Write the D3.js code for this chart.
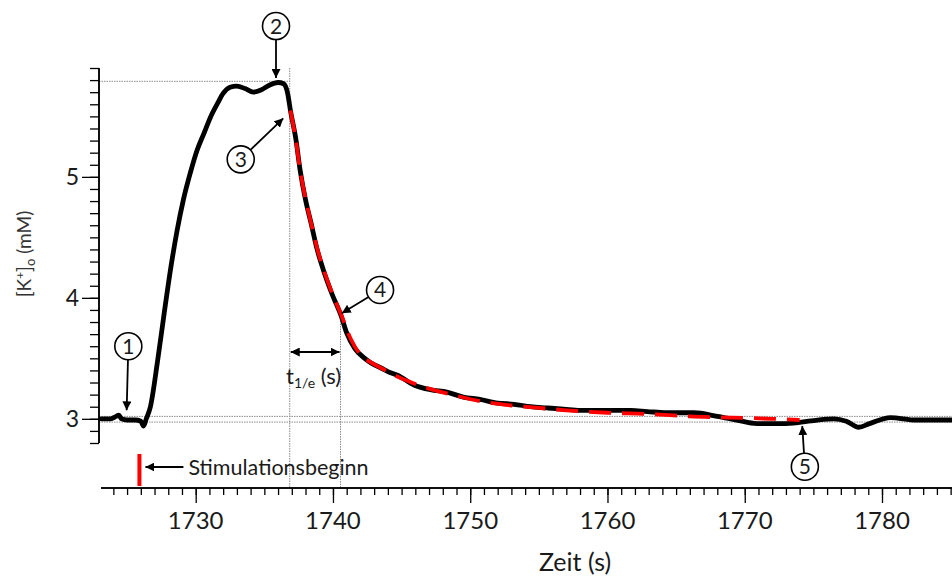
<!DOCTYPE html>
<html>
<head>
<meta charset="utf-8">
<script src="https://cdn.jsdelivr.net/npm/d3@7"></script>
<style>
  html, body { margin: 0; padding: 0; background: #fff; }
  svg { display: block; font-family: Lato, "Open Sans", sans-serif; }
</style>
</head>
<body>
<svg id="chart" width="952" height="577"></svg>
<script>
// ---- data ----
const traceTime = [1723.1,1723.8,1724.2,1724.4,1724.6,1725.0,1725.6,1726.0,1726.2,1726.4,1726.7,1727.2,1727.7,1728.2,1728.65,1729.1,1729.6,1730.1,1730.6,1731.1,1731.6,1732.0,1732.5,1733.0,1733.6,1734.2,1734.8,1735.4,1736.0,1736.4,1736.7,1736.9,1737.3,1737.6,1738.0,1738.4,1738.8,1739.3,1739.9,1740.6,1741.0,1741.6,1742.2,1742.8,1743.5,1744.0,1744.7,1745.9,1747.1,1748.3,1749.5,1750.7,1752.0,1753.2,1754.4,1755.6,1756.8,1758.0,1759.2,1760.5,1761.7,1762.9,1764.3,1766.3,1768.0,1769.4,1770.9,1772.8,1774.0,1775.3,1776.5,1777.4,1778.3,1779.1,1780.6,1782.5,1785.1];
const traceK = [3.00,3.00,3.02,3.03,3.00,2.99,2.99,2.98,2.94,3.00,3.10,3.46,3.87,4.26,4.56,4.81,5.03,5.22,5.36,5.50,5.61,5.69,5.74,5.75,5.73,5.70,5.72,5.76,5.78,5.77,5.69,5.55,5.31,5.06,4.81,4.62,4.42,4.23,4.04,3.85,3.71,3.58,3.51,3.46,3.42,3.39,3.36,3.28,3.24,3.22,3.18,3.16,3.13,3.12,3.10,3.09,3.08,3.07,3.07,3.07,3.07,3.06,3.05,3.05,3.02,2.99,2.96,2.96,2.97,2.99,3.00,2.98,2.93,2.96,3.01,2.99,2.99];

const fitTime = [1736.9,1737.3,1737.6,1738.0,1738.4,1738.8,1739.3,1739.9,1740.6,1741.3,1742.0,1742.7,1743.5,1744.5,1745.5,1747.0,1749.0,1751.0,1753.0,1755.0,1757.0,1760.0,1763.0,1766.0,1769.0,1772.0,1774.0];
const fitK    = [5.55,5.30,5.06,4.82,4.62,4.43,4.24,4.05,3.86,3.66,3.53,3.47,3.42,3.36,3.31,3.25,3.19,3.14,3.11,3.09,3.07,3.05,3.04,3.02,3.01,3.00,2.99];

const xMajorTicks = [1730,1740,1750,1760,1770,1780];
const yMajorTicks = [3,4,5];

const stimTime = 1725.9;
const peakK = 5.79;
const decayStart = 1736.85;
const t1e = 1740.55;
const baseHigh = 3.02, baseLow = 2.973;

const markers = [
  {label:"1", cx:1725.09, cy:3.60, tx:1724.97, ty:3.07},
  {label:"2", cx:1735.85, cy:6.247, tx:1735.85, ty:5.817},
  {label:"3", cx:1733.28, cy:5.145, tx:1736.38, ty:5.484},
  {label:"4", cx:1743.43, cy:4.065, tx:1740.64, ty:3.872},
  {label:"5", cx:1774.38, cy:2.604, tx:1774.19, ty:2.94}
];

// ---- scales ----
const svg = d3.select("#chart");
const x = d3.scaleLinear().domain([1723.1, 1785.1]).range([101, 952]);
const y = d3.scaleLinear().domain([2.8, 5.9]).range([443, 68]);
const xAxisY = 488;

// arrow marker
const defs = svg.append("defs");
defs.append("marker").attr("id","arr").attr("viewBox","0 0 10 10")
  .attr("refX",10).attr("refY",5).attr("markerWidth",9).attr("markerHeight",9)
  .attr("markerUnits","userSpaceOnUse").attr("orient","auto-start-reverse")
  .append("path").attr("d","M0,0 L10,5 L0,10 z").attr("fill","#000");

// ---- reference gridlines (gray dotted) ----
const grid = svg.append("g").attr("stroke","#8a8a8a").attr("stroke-width",1).attr("stroke-dasharray","1.5,1");
grid.append("line").attr("x1", x.range()[0]-2).attr("x2", x(decayStart)).attr("y1", y(peakK)).attr("y2", y(peakK));
grid.append("line").attr("x1", x(decayStart)).attr("x2", x(decayStart)).attr("y1", y(5.9)).attr("y2", xAxisY);
grid.append("line").attr("x1", x(t1e)).attr("x2", x(t1e)).attr("y1", y(3.87)).attr("y2", xAxisY);
grid.append("line").attr("x1", 99).attr("x2", 952).attr("y1", y(baseHigh)).attr("y2", y(baseHigh));
grid.append("line").attr("x1", 99).attr("x2", 952).attr("y1", y(baseLow)).attr("y2", y(baseLow));

// ---- y axis ----
const yMinor = d3.range(28, 60).map(d => d / 10);
const yAxisMinor = svg.append("g").attr("transform","translate(99,0)")
  .call(d3.axisLeft(y).tickValues(yMinor).tickSize(9).tickFormat(""));
const yAxisMajor = svg.append("g").attr("transform","translate(99,0)")
  .call(d3.axisLeft(y).tickValues(yMajorTicks).tickSize(17).tickFormat(""));
[yAxisMinor, yAxisMajor].forEach(g => {
  g.select(".domain").attr("stroke","#000").attr("stroke-width",1.5).attr("d", `M0,${y(5.9)}V${y(2.8)}`);
  g.selectAll(".tick line").attr("stroke","#000").attr("stroke-width",1.3);
});
svg.append("g").selectAll("text").data(yMajorTicks).join("text")
  .attr("x", 79).attr("y", d => y(d) + 8.5)
  .attr("text-anchor","end").attr("font-size",23).attr("fill","#1a1a1a").text(d => d);

// y label
const yl = svg.append("text").attr("transform","translate(31,254) rotate(-90)")
  .attr("text-anchor","middle").attr("font-size",19).attr("fill","#333");
yl.append("tspan").text("[K");
yl.append("tspan").attr("font-size",12).attr("dy",-7).text("+");
yl.append("tspan").attr("dy",7).text("]");
yl.append("tspan").attr("font-size",13).attr("dy",4).text("o");
yl.append("tspan").attr("dy",-4).text(" (mM)");

// ---- x axis ----
const xMinor = d3.range(1724, 1786);
const xAxisMinor = svg.append("g").attr("transform",`translate(0,${xAxisY})`)
  .call(d3.axisBottom(x).tickValues(xMinor).tickSize(7).tickFormat(""));
const xAxisMajor = svg.append("g").attr("transform",`translate(0,${xAxisY})`)
  .call(d3.axisBottom(x).tickValues(xMajorTicks).tickSize(15).tickFormat(""));
[xAxisMinor, xAxisMajor].forEach(g => {
  g.select(".domain").attr("stroke","#000").attr("stroke-width",1.5).attr("d", `M${x.range()[0]},0H952`);
  g.selectAll(".tick line").attr("stroke","#000").attr("stroke-width",1.3);
});
svg.append("g").selectAll("text").data(xMajorTicks).join("text")
  .attr("x", d => x(d)).attr("y", xAxisY + 41)
  .attr("text-anchor","middle").attr("font-size",24).attr("fill","#1a1a1a").text(d => d);
svg.append("text").attr("x", 575).attr("y", 571).attr("text-anchor","middle")
  .attr("font-size",25).attr("fill","#1a1a1a").text("Zeit (s)");

// ---- trace ----
const line = d3.line().x(d => x(d[0])).y(d => y(d[1])).curve(d3.curveMonotoneX);
svg.append("path").datum(d3.zip(traceTime, traceK)).attr("d", line)
  .attr("fill","none").attr("stroke","#000").attr("stroke-width",4.8)
  .attr("stroke-linejoin","round").attr("stroke-linecap","round");
svg.append("path").datum(d3.zip(fitTime, fitK)).attr("d", line)
  .attr("fill","none").attr("stroke","#ff0000").attr("stroke-width",3.8)
  .attr("stroke-dasharray","22,11");

// ---- stimulation marker ----
svg.append("line").attr("x1", x(stimTime)).attr("x2", x(stimTime))
  .attr("y1", 454).attr("y2", 486).attr("stroke","#ff0000").attr("stroke-width",4);
svg.append("line").attr("x1", x(stimTime) + 44).attr("x2", x(stimTime) + 6)
  .attr("y1", 467).attr("y2", 467).attr("stroke","#000").attr("stroke-width",1.8)
  .attr("marker-end","url(#arr)");
svg.append("text").attr("x", x(stimTime) + 49).attr("y", 474.5)
  .attr("font-size",21.5).attr("fill","#1a1a1a").text("Stimulationsbeginn");

// ---- t1/e double arrow ----
svg.append("line").attr("x1", x(decayStart) + 1).attr("x2", x(t1e) - 1)
  .attr("y1", 352).attr("y2", 352).attr("stroke","#000").attr("stroke-width",1.8)
  .attr("marker-start","url(#arr)").attr("marker-end","url(#arr)");
const tl = svg.append("text").attr("x", 286).attr("y", 384).attr("font-size",22).attr("fill","#1a1a1a");
tl.append("tspan").text("t");
tl.append("tspan").attr("font-size",14).attr("dy",4).text("1/e");
tl.append("tspan").attr("dy",-4).text(" (s)");

// ---- numbered markers ----
const mk = svg.append("g");
markers.forEach(m => {
  const cx = x(m.cx), cy = y(m.cy), tx = x(m.tx), ty = y(m.ty);
  const r = 13.5;
  const ang = Math.atan2(ty - cy, tx - cx);
  mk.append("line").attr("x1", cx + r * Math.cos(ang)).attr("y1", cy + r * Math.sin(ang))
    .attr("x2", tx).attr("y2", ty).attr("stroke","#000").attr("stroke-width",1.8)
    .attr("marker-end","url(#arr)");
  mk.append("circle").attr("cx", cx).attr("cy", cy).attr("r", r)
    .attr("fill","#fff").attr("stroke","#000").attr("stroke-width",1.6);
  mk.append("text").attr("x", cx).attr("y", cy + 7.5).attr("text-anchor","middle")
    .attr("font-size",21).attr("fill","#1a1a1a").text(m.label);
});
</script>
</body>
</html>
